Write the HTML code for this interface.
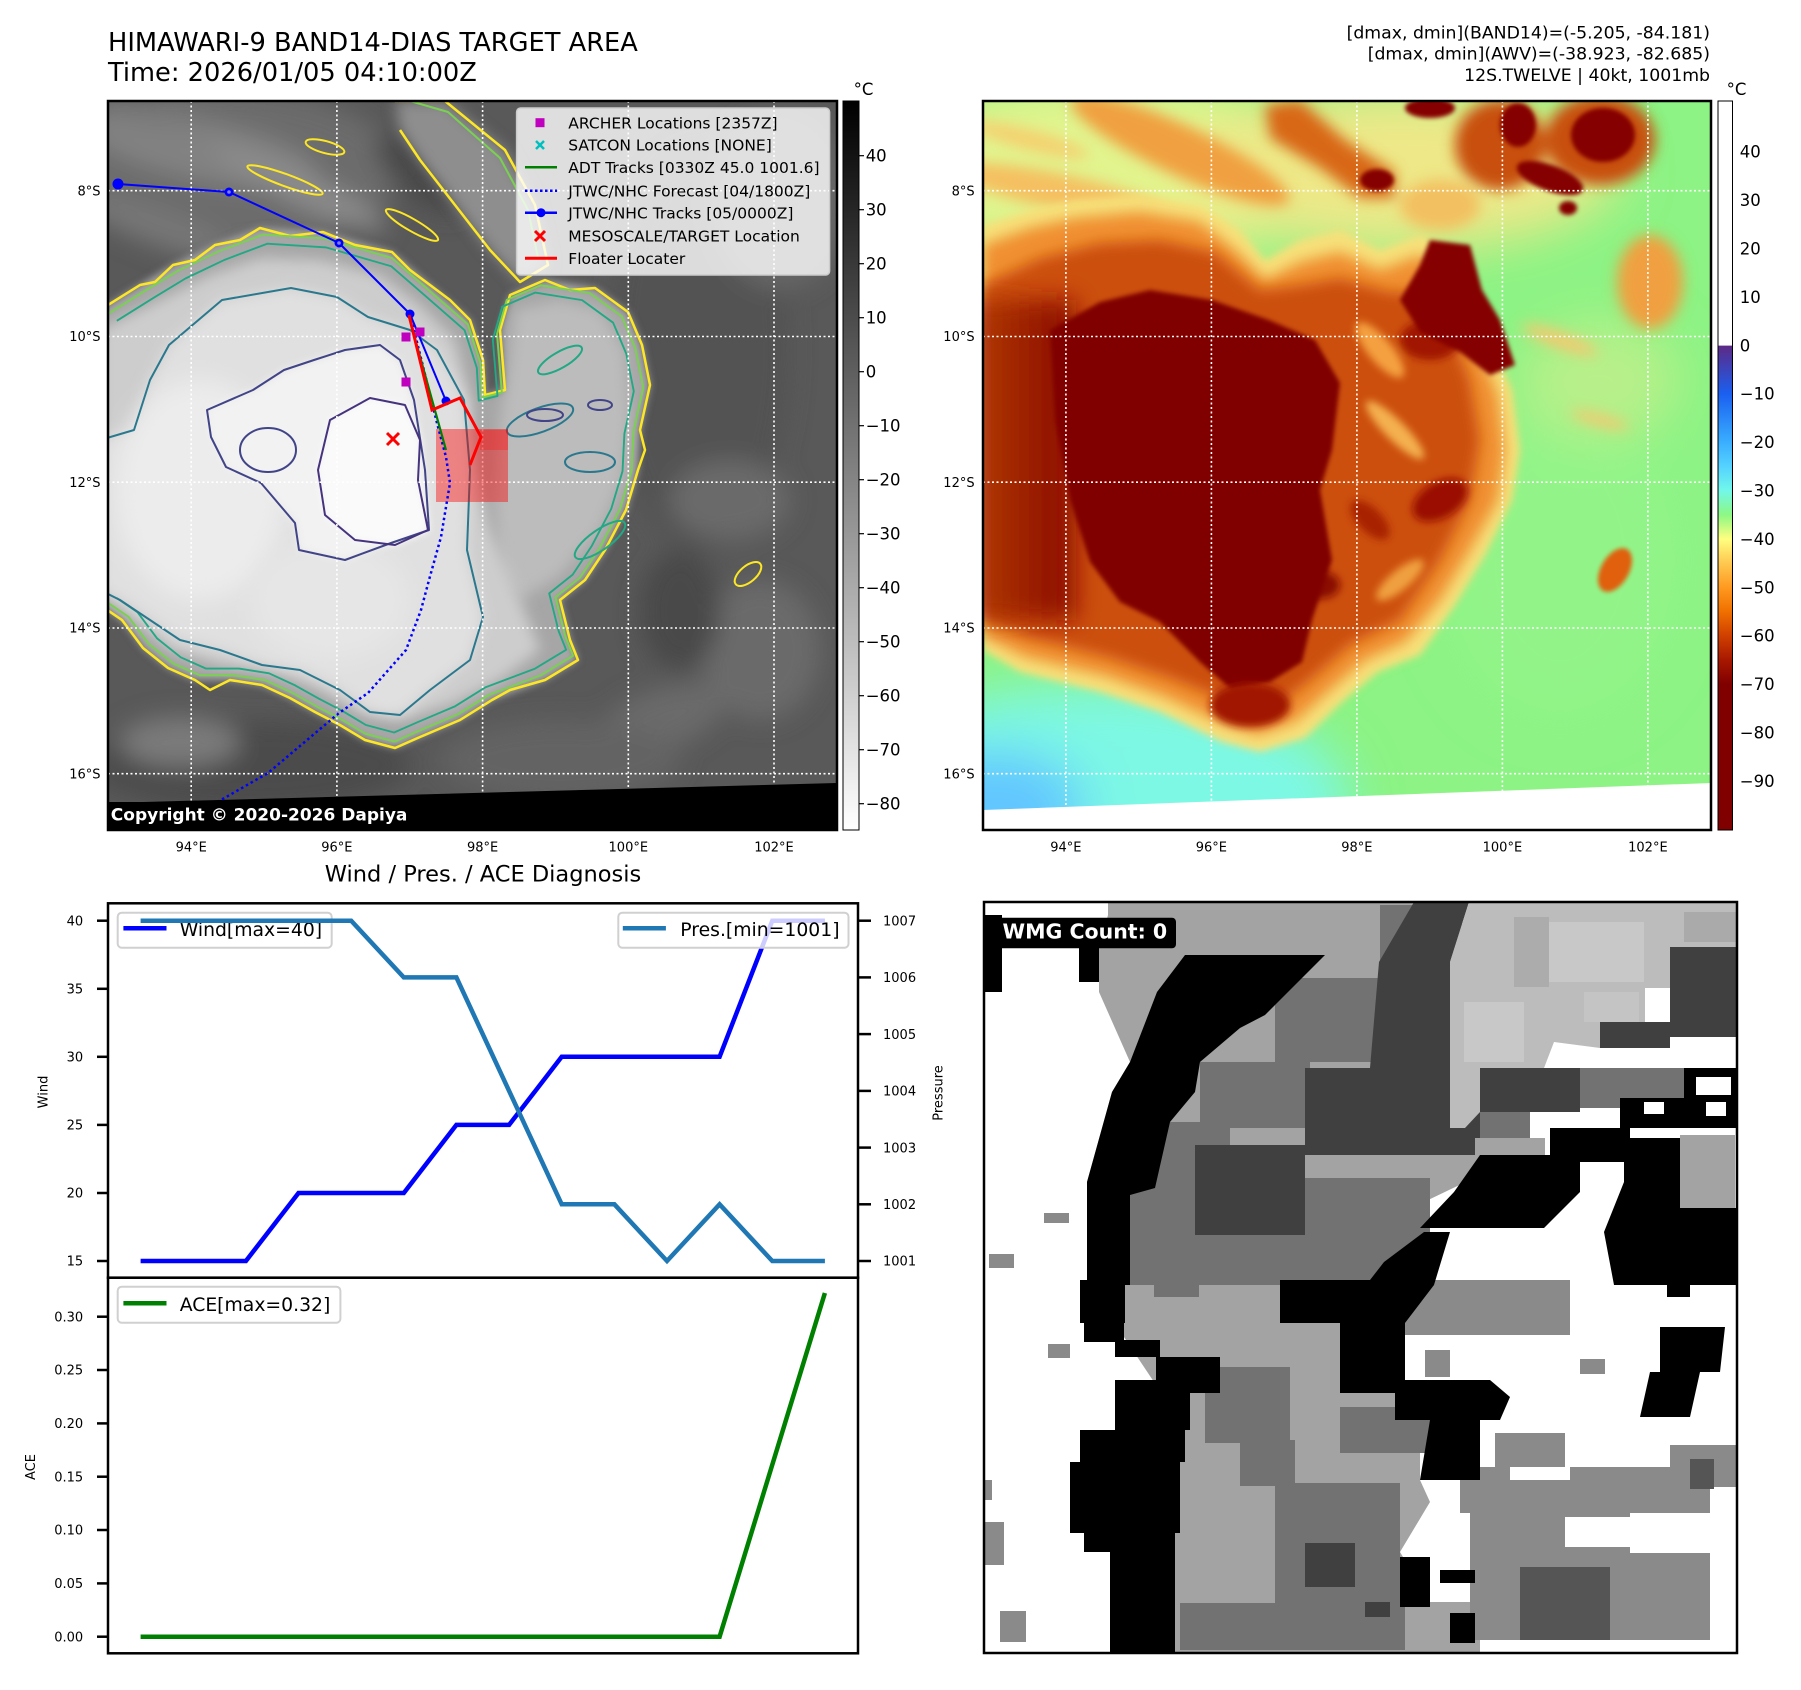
<!DOCTYPE html>
<html><head><meta charset="utf-8">
<style>
html,body{margin:0;padding:0;background:#fff;}
svg{display:block;}
text{font-family:"DejaVu Sans","Liberation Sans",sans-serif;fill:#000;}
</style></head><body>
<svg width="1801" height="1690" viewBox="0 0 1801 1690" xmlns="http://www.w3.org/2000/svg">
<defs>
<filter id="b2" x="-20%" y="-20%" width="140%" height="140%"><feGaussianBlur stdDeviation="2"/></filter>
<filter id="b4" x="-20%" y="-20%" width="140%" height="140%"><feGaussianBlur stdDeviation="4"/></filter>
<filter id="b7" x="-20%" y="-20%" width="140%" height="140%"><feGaussianBlur stdDeviation="7"/></filter>
<filter id="b12" x="-30%" y="-30%" width="160%" height="160%"><feGaussianBlur stdDeviation="12"/></filter>
<filter id="b25" x="-40%" y="-40%" width="180%" height="180%"><feGaussianBlur stdDeviation="25"/></filter>
<clipPath id="c1"><rect x="108" y="101" width="729" height="729"/></clipPath>
<clipPath id="c2"><rect x="983" y="101" width="728" height="729"/></clipPath>
<linearGradient id="gcb" x1="0" y1="0" x2="0" y2="1"><stop offset="0" stop-color="#000"/><stop offset="1" stop-color="#fff"/></linearGradient>
<linearGradient id="jcb" x1="0" y1="0" x2="0" y2="1">
<stop offset="0" stop-color="#fff"/><stop offset="0.335" stop-color="#fff"/>
<stop offset="0.336" stop-color="#5c2a86"/><stop offset="0.4015" stop-color="#1a5ff0"/>
<stop offset="0.468" stop-color="#3aaeff"/><stop offset="0.501" stop-color="#55d2ff"/>
<stop offset="0.5344" stop-color="#72f8ea"/><stop offset="0.5675" stop-color="#8cf884"/>
<stop offset="0.6007" stop-color="#ffff80"/><stop offset="0.6339" stop-color="#ffc850"/>
<stop offset="0.667" stop-color="#ff9a20"/><stop offset="0.7003" stop-color="#f07000"/>
<stop offset="0.7335" stop-color="#d04000"/><stop offset="0.7667" stop-color="#a81800"/>
<stop offset="0.7998" stop-color="#800000"/><stop offset="1" stop-color="#800000"/>
</linearGradient>
<linearGradient id="coreL" x1="0" y1="0" x2="1" y2="0">
<stop offset="0" stop-color="#b03a08"/><stop offset="1" stop-color="#8a0800"/>
</linearGradient>
</defs>

<!-- Titles -->
<text x="108" y="51" font-size="25.7">HIMAWARI-9 BAND14-DIAS TARGET AREA</text>
<text x="108" y="81" font-size="25.7">Time: 2026/01/05 04:10:00Z</text>
<text x="1710" y="38.5" font-size="17.3" text-anchor="end">[dmax, dmin](BAND14)=(-5.205, -84.181)</text>
<text x="1710" y="59.5" font-size="17.3" text-anchor="end">[dmax, dmin](AWV)=(-38.923, -82.685)</text>
<text x="1710" y="80.9" font-size="17.3" text-anchor="end">12S.TWELVE | 40kt, 1001mb</text>

<!-- ============ TOP LEFT PANEL ============ -->
<g clip-path="url(#c1)">
<rect x="108" y="101" width="729" height="729" fill="#595959"/>
<g filter="url(#b12)">
<ellipse cx="230" cy="170" rx="170" ry="80" fill="#6c6c6c"/>
<ellipse cx="200" cy="150" rx="120" ry="30" transform="rotate(12 200 150)" fill="#828282"/>
<ellipse cx="300" cy="188" rx="95" ry="16" transform="rotate(25 300 188)" fill="#8c8c8c"/>
<ellipse cx="160" cy="228" rx="80" ry="18" transform="rotate(20 160 228)" fill="#777"/>
<ellipse cx="150" cy="115" rx="60" ry="14" transform="rotate(8 150 115)" fill="#7a7a7a"/>
<ellipse cx="420" cy="175" rx="55" ry="22" transform="rotate(40 420 175)" fill="#4a4a4a"/>
<ellipse cx="700" cy="350" rx="90" ry="200" fill="#525252"/>
<ellipse cx="730" cy="500" rx="60" ry="40" fill="#6a6a6a"/>
<ellipse cx="760" cy="650" rx="60" ry="70" fill="#6a6a6a"/>
<ellipse cx="680" cy="610" rx="40" ry="60" fill="#4a4a4a"/>
<ellipse cx="660" cy="720" rx="70" ry="30" transform="rotate(-20 660 720)" fill="#6a6a6a"/>
<ellipse cx="250" cy="765" rx="160" ry="45" fill="#4c4c4c"/>
<ellipse cx="180" cy="742" rx="60" ry="25" fill="#7a7a7a"/>
<ellipse cx="560" cy="760" rx="120" ry="40" fill="#636363"/>
<ellipse cx="780" cy="200" rx="70" ry="90" fill="#666"/>
</g>
<polygon filter="url(#b7)" fill="#8e8e8e" points="395,101 445,101 505,150 535,205 548,265 520,282 490,250 455,205 420,160 400,130"/>
<!-- cloud fills -->
<path filter="url(#b4)" fill="#a6a6a6" d="M100,310 L140,285 173,265 215,245 260,228 323,232 392,252 430,285 470,320 483,360 485,395 505,390 500,330 510,295 545,280 595,288 628,312 642,345 650,385 640,430 638,470 626,510 605,550 585,580 560,600 570,640 578,660 545,680 492,700 460,720 420,737 395,748 365,740 340,725 315,712 290,698 262,685 230,680 195,680 168,668 143,648 122,620 100,605 Z"/>
<polygon filter="url(#b7)" fill="#bcbcbc" points="515,310 560,300 600,310 625,350 630,420 622,480 600,530 560,575 520,600 500,580 495,500 500,420 510,360"/>
<polygon filter="url(#b7)" fill="#cdcdcd" points="100,330 160,300 210,275 260,258 320,260 380,275 420,305 455,340 470,400 475,470 490,530 520,600 540,650 500,680 450,705 400,720 360,712 320,690 270,670 220,665 170,650 135,620 100,590"/>
<path filter="url(#b7)" fill="#e0e0e0" d="M100,440 L134,430 150,380 169,345 222,300 291,288 337,297 368,317 410,330 437,350 464,400 470,470 467,550 483,617 470,660 430,690 400,715 370,712 340,690 300,670 262,665 220,650 180,640 150,620 120,600 100,590 Z"/>
<ellipse filter="url(#b12)" cx="200" cy="490" rx="85" ry="110" fill="#ececec"/>
<ellipse filter="url(#b12)" cx="330" cy="600" rx="80" ry="60" fill="#e6e6e6"/>
<path filter="url(#b4)" fill="#f2f2f2" d="M207,410 L253,390 284,370 314,360 345,350 380,345 400,360 414,400 425,470 429,530 391,543 345,560 299,550 295,523 261,483 226,467 211,437 Z"/>
<path filter="url(#b4)" fill="#fafafa" d="M330,420 L370,398 405,405 420,440 418,480 428,530 395,545 355,540 325,515 318,470 Z"/>
<!-- contours -->
<g fill="none" stroke-linejoin="round">
<path stroke="#fde725" stroke-width="2.5" d="M100,310 L140,285 155,282 173,265 195,260 215,245 240,240 260,228 290,236 323,232 355,245 392,252 410,270 430,285 450,300 470,320 483,360 485,395 505,390 500,330 510,295 545,280 570,290 595,288 628,312 642,345 650,385 640,430 645,450 638,470 626,510 605,550 585,580 560,600 570,640 578,660 545,680 510,690 492,700 460,720 420,737 395,748 365,740 340,725 315,712 290,698 262,685 230,680 210,690 195,680 168,668 143,648 122,620 100,605"/>
<path stroke="#7ad151" stroke-width="2" transform="translate(380 490) scale(0.975) translate(-380 -490)" d="M100,310 L140,285 173,265 215,245 260,228 323,232 392,252 430,285 470,320 483,360 485,395 505,390 500,330 510,295 545,280 595,288 628,312 642,345 650,385 640,430 638,470 626,510 605,550 585,580 560,600 570,640 578,660 545,680 492,700 460,720 420,737 395,748 365,740 340,725 315,712 290,698 262,685 230,680 195,680 168,668 143,648 122,620 100,605"/>
<path stroke="#22a884" stroke-width="2" transform="translate(380 490) scale(0.94) translate(-380 -490)" d="M100,310 L140,285 173,265 215,245 260,228 323,232 392,252 430,285 470,320 483,360 485,395 505,390 500,330 510,295 545,280 595,288 628,312 642,345 650,385 640,430 638,470 626,510 605,550 585,580 560,600 570,640 578,660 545,680 492,700 460,720 420,737 395,748 365,740 340,725 315,712 290,698 262,685 230,680 195,680 168,668 143,648 122,620 100,605"/>
<path stroke="#2a788e" stroke-width="2" d="M100,440 L134,430 150,380 169,345 222,300 291,288 337,297 368,317 410,330 437,350 464,400 470,470 467,550 483,617 470,660 430,690 400,715 370,712 340,690 300,670 262,665 220,650 180,640 150,620 120,600 100,590"/>
<path stroke="#414487" stroke-width="2" d="M207,410 L253,390 284,370 314,360 345,350 380,345 400,360 414,400 425,470 429,530 391,543 345,560 299,550 295,523 261,483 226,467 211,437 Z"/>
<path stroke="#46337e" stroke-width="2" d="M330,420 L370,398 405,405 420,440 418,480 428,530 395,545 355,540 325,515 318,470 Z"/>
<path stroke="#fde725" stroke-width="2.5" d="M395,101 L445,101 505,150 535,205 548,265 520,282 490,250 455,205 420,160 400,130"/>
<path stroke="#7ad151" stroke-width="2" d="M410,101 L448,112 500,158 528,210 538,258"/>
<ellipse cx="285" cy="180" rx="40" ry="6" transform="rotate(20 285 180)" stroke="#fde725" stroke-width="2"/>
<ellipse cx="325" cy="147" rx="20" ry="6" transform="rotate(15 325 147)" stroke="#fde725" stroke-width="2"/>
<ellipse cx="412" cy="225" rx="30" ry="6" transform="rotate(30 412 225)" stroke="#fde725" stroke-width="2"/>
<ellipse cx="748" cy="574" rx="16" ry="8" transform="rotate(-40 748 574)" stroke="#fde725" stroke-width="2"/>
<ellipse cx="540" cy="420" rx="35" ry="12" transform="rotate(-20 540 420)" stroke="#2a788e" stroke-width="2"/>
<ellipse cx="590" cy="462" rx="25" ry="10" stroke="#2a788e" stroke-width="2"/>
<ellipse cx="545" cy="415" rx="18" ry="6" stroke="#414487" stroke-width="2"/>
<ellipse cx="600" cy="405" rx="12" ry="5" stroke="#414487" stroke-width="2"/>
<ellipse cx="268" cy="450" rx="28" ry="22" stroke="#414487" stroke-width="2"/>
<ellipse cx="600" cy="540" rx="30" ry="10" transform="rotate(-35 600 540)" stroke="#22a884" stroke-width="2"/>
<ellipse cx="560" cy="360" rx="25" ry="8" transform="rotate(-30 560 360)" stroke="#22a884" stroke-width="2"/>
</g>
<!-- gridlines -->
<g stroke="#fff" stroke-width="1.6" stroke-dasharray="2 2.5">
<line x1="191.2" y1="101" x2="191.2" y2="830"/><line x1="336.9" y1="101" x2="336.9" y2="830"/>
<line x1="482.6" y1="101" x2="482.6" y2="830"/><line x1="628.3" y1="101" x2="628.3" y2="830"/>
<line x1="774" y1="101" x2="774" y2="830"/>
<line x1="108" y1="190.7" x2="837" y2="190.7"/><line x1="108" y1="336.5" x2="837" y2="336.5"/>
<line x1="108" y1="482.2" x2="837" y2="482.2"/><line x1="108" y1="628" x2="837" y2="628"/>
<line x1="108" y1="773.7" x2="837" y2="773.7"/>
</g>
<!-- pink floater box -->
<rect x="436" y="429" width="72" height="73" fill="#ff0000" fill-opacity="0.42"/>
<rect x="480" y="430" width="28" height="20" fill="#ff0000" fill-opacity="0.25"/>
<!-- tracks -->
<polyline fill="none" stroke="#0000ff" stroke-width="2.5" stroke-dasharray="2.5 3" points="410,314 437,423 446,457 450,483 441,537 429,580 421,610 406,650 368,693 339,713 268,773 214,804"/>
<polyline fill="none" stroke="#0000ff" stroke-width="2" points="118,184 229,192 339,243 410,314 446,401"/>
<circle cx="118" cy="184" r="5.5" fill="#0000ff"/>
<circle cx="229" cy="192" r="4.5" fill="#0000ff"/><circle cx="229" cy="192" r="1.8" fill="#8080ff"/>
<circle cx="339" cy="243" r="4.5" fill="#0000ff"/><circle cx="339" cy="243" r="1.8" fill="#8080ff"/>
<circle cx="410" cy="314" r="4.5" fill="#0000ff"/>
<circle cx="446" cy="401" r="4.5" fill="#0000ff"/>
<line x1="409" y1="317" x2="446" y2="450" stroke="#008000" stroke-width="2.2"/>
<polyline fill="none" stroke="#ff0000" stroke-width="3" points="409,315 432,410 460,398 481,437 470,465"/>
<g fill="#bf00bf"><rect x="401.5" y="332.5" width="9" height="9"/><rect x="415.5" y="327.5" width="9" height="9"/><rect x="401.5" y="377.5" width="9" height="9"/></g>
<g stroke="#ff0000" stroke-width="3"><line x1="387" y1="433" x2="399" y2="445"/><line x1="399" y1="433" x2="387" y2="445"/></g>
<!-- no-data black area -->
<polygon points="108,803 837,783 837,830 108,830" fill="#000"/>
<rect x="108" y="802" width="307" height="28" fill="#000"/>
<text x="110.8" y="820.5" font-size="17" font-weight="bold" style="fill:#fff">Copyright © 2020-2026 Dapiya</text>
<!-- legend -->
<rect x="516.6" y="108" width="313" height="167" rx="4" fill="#fff" fill-opacity="0.8" stroke="#cccccc" stroke-width="1.5"/>
<rect x="535.5" y="118.2" width="9" height="9" fill="#bf00bf"/>
<g stroke="#00bfbf" stroke-width="2.5"><line x1="536" y1="141" x2="544" y2="149"/><line x1="544" y1="141" x2="536" y2="149"/></g>
<line x1="525" y1="167.3" x2="557" y2="167.3" stroke="#008000" stroke-width="2.5"/>
<line x1="525" y1="190.7" x2="557" y2="190.7" stroke="#0000ff" stroke-width="2.5" stroke-dasharray="2.5 2.5"/>
<line x1="525" y1="212.7" x2="557" y2="212.7" stroke="#0000ff" stroke-width="2.5"/><circle cx="541" cy="212.7" r="4.5" fill="#0000ff"/>
<g stroke="#ff0000" stroke-width="3"><line x1="535" y1="231" x2="545" y2="241"/><line x1="545" y1="231" x2="535" y2="241"/></g>
<line x1="525" y1="258.3" x2="557" y2="258.3" stroke="#ff0000" stroke-width="3"/>
<g font-size="15.5">
<text x="568.3" y="128.3">ARCHER Locations [2357Z]</text>
<text x="568.3" y="150.6">SATCON Locations [NONE]</text>
<text x="568.3" y="172.9">ADT Tracks [0330Z 45.0 1001.6]</text>
<text x="568.3" y="196.3">JTWC/NHC Forecast [04/1800Z]</text>
<text x="568.3" y="218.3">JTWC/NHC Tracks [05/0000Z]</text>
<text x="568.3" y="241.6">MESOSCALE/TARGET Location</text>
<text x="568.3" y="263.9">Floater Locater</text>
</g>
</g>
<rect x="108" y="101" width="729" height="729" fill="none" stroke="#000" stroke-width="2.5"/>

<!-- map tick labels -->
<g font-size="13" text-anchor="end">
<text x="100.5" y="195.4">8°S</text><text x="100.5" y="341.2">10°S</text><text x="100.5" y="486.9">12°S</text>
<text x="100.5" y="632.7">14°S</text><text x="100.5" y="778.4">16°S</text>
<text x="974.6" y="195.4">8°S</text><text x="974.6" y="341.2">10°S</text><text x="974.6" y="486.9">12°S</text>
<text x="974.6" y="632.7">14°S</text><text x="974.6" y="778.4">16°S</text>
</g>
<g font-size="13" text-anchor="middle">
<text x="191.2" y="851.5">94°E</text><text x="336.9" y="851.5">96°E</text><text x="482.6" y="851.5">98°E</text>
<text x="628.3" y="851.5">100°E</text><text x="774" y="851.5">102°E</text>
<text x="1065.9" y="851.5">94°E</text><text x="1211.4" y="851.5">96°E</text><text x="1356.9" y="851.5">98°E</text>
<text x="1502.4" y="851.5">100°E</text><text x="1647.9" y="851.5">102°E</text>
</g>

<!-- left colorbar -->
<rect x="843" y="101" width="16" height="729" fill="url(#gcb)" stroke="#000" stroke-width="1"/>
<text x="853.6" y="95" font-size="16.5">°C</text>
<g stroke="#000" stroke-width="1.2">
<line x1="859" y1="155.7" x2="864" y2="155.7"/><line x1="859" y1="209.7" x2="864" y2="209.7"/><line x1="859" y1="263.7" x2="864" y2="263.7"/>
<line x1="859" y1="317.7" x2="864" y2="317.7"/><line x1="859" y1="371.7" x2="864" y2="371.7"/><line x1="859" y1="425.7" x2="864" y2="425.7"/>
<line x1="859" y1="479.7" x2="864" y2="479.7"/><line x1="859" y1="533.7" x2="864" y2="533.7"/><line x1="859" y1="587.7" x2="864" y2="587.7"/>
<line x1="859" y1="641.7" x2="864" y2="641.7"/><line x1="859" y1="695.7" x2="864" y2="695.7"/><line x1="859" y1="749.7" x2="864" y2="749.7"/>
<line x1="859" y1="803.7" x2="864" y2="803.7"/>
</g>
<g font-size="16.5">
<text x="865.7" y="161.7">40</text><text x="865.7" y="215.7">30</text><text x="865.7" y="269.7">20</text>
<text x="865.7" y="323.7">10</text><text x="865.7" y="377.7">0</text><text x="865.7" y="431.7">−10</text>
<text x="865.7" y="485.7">−20</text><text x="865.7" y="539.7">−30</text><text x="865.7" y="593.7">−40</text>
<text x="865.7" y="647.7">−50</text><text x="865.7" y="701.7">−60</text><text x="865.7" y="755.7">−70</text>
<text x="865.7" y="809.7">−80</text>
</g>

<!-- ============ TOP RIGHT PANEL ============ -->
<g clip-path="url(#c2)">
<rect x="983" y="101" width="728" height="729" fill="#8cf384"/>
<g filter="url(#b25)">
<ellipse cx="1110" cy="170" rx="230" ry="95" fill="#e2f48e"/>
<ellipse cx="1400" cy="170" rx="220" ry="80" fill="#eee888"/>
<ellipse cx="1090" cy="805" rx="260" ry="120" fill="#7df8e4"/>
<ellipse cx="995" cy="810" rx="90" ry="60" fill="#62c6ff"/>
<ellipse cx="1560" cy="560" rx="120" ry="160" fill="#92f488"/>
<ellipse cx="1600" cy="380" rx="80" ry="60" fill="#b8f08a"/>
</g>
<g filter="url(#b7)">
<ellipse cx="1180" cy="150" rx="120" ry="25" transform="rotate(25 1180 150)" fill="#f0a040"/>
<ellipse cx="1060" cy="192" rx="110" ry="18" transform="rotate(12 1060 192)" fill="#f4c060"/>
<ellipse cx="1030" cy="140" rx="60" ry="10" transform="rotate(15 1030 140)" fill="#f4d070"/>
<polygon points="1265,105 1300,100 1345,140 1395,172 1395,198 1360,198 1320,168 1270,138" fill="#d86818"/>
<ellipse cx="1500" cy="145" rx="45" ry="45" fill="#c85010"/>
<ellipse cx="1600" cy="140" rx="55" ry="45" fill="#c85010"/>
<ellipse cx="1650" cy="282" rx="33" ry="47" fill="#f0a040"/>
<ellipse cx="1440" cy="205" rx="40" ry="25" fill="#f2c060"/>
<ellipse cx="1560" cy="340" rx="40" ry="8" transform="rotate(20 1560 340)" fill="#f4c870"/>
<ellipse cx="1600" cy="420" rx="30" ry="6" transform="rotate(15 1600 420)" fill="#f4c870"/>
</g>
<g filter="url(#b2)" fill="#850400">
<ellipse cx="1377" cy="180" rx="17" ry="11"/>
<ellipse cx="1430" cy="108" rx="25" ry="10"/>
<ellipse cx="1518" cy="125" rx="18" ry="22"/>
<ellipse cx="1603" cy="135" rx="32" ry="27"/>
<ellipse cx="1550" cy="178" rx="35" ry="13" transform="rotate(20 1550 178)"/>
<ellipse cx="1568" cy="208" rx="9" ry="7"/>
</g>
<!-- cloud -->
<polygon filter="url(#b4)" fill="#f6e07a" points="983,225 1030,210 1075,200 1140,195 1200,205 1240,230 1265,260 1300,240 1340,230 1380,250 1420,235 1455,250 1470,300 1490,340 1512,390 1520,450 1512,500 1485,555 1455,605 1420,655 1378,672 1342,702 1305,738 1260,752 1222,742 1160,712 1100,692 1020,672 983,650"/>
<polygon filter="url(#b7)" fill="#f09030" points="983,245 1030,228 1075,218 1140,212 1200,222 1235,250 1265,280 1300,262 1340,252 1380,270 1420,255 1445,270 1458,305 1478,345 1498,395 1505,450 1498,500 1470,550 1440,600 1405,642 1365,660 1330,690 1295,722 1258,735 1225,725 1165,697 1105,676 1025,657 983,636"/>
<polygon filter="url(#b7)" fill="#cc5010" points="983,285 1040,258 1100,243 1160,240 1215,252 1260,290 1300,285 1340,278 1390,292 1430,292 1450,330 1470,380 1480,440 1470,500 1440,560 1400,620 1350,645 1310,680 1270,712 1230,702 1170,678 1110,658 1030,638 983,618"/>
<rect filter="url(#b12)" x="975" y="300" width="100" height="320" fill="url(#coreL)"/>
<g filter="url(#b4)">
<ellipse cx="1380" cy="350" rx="35" ry="12" transform="rotate(50 1380 350)" fill="#f4a040"/>
<ellipse cx="1395" cy="430" rx="40" ry="10" transform="rotate(45 1395 430)" fill="#f4b050"/>
<ellipse cx="1430" cy="340" rx="30" ry="20" fill="#a01800"/>
<ellipse cx="1440" cy="500" rx="30" ry="18" transform="rotate(-30 1440 500)" fill="#9a1000"/>
<ellipse cx="1320" cy="585" rx="20" ry="14" fill="#8a0800"/>
<ellipse cx="1370" cy="520" rx="25" ry="12" transform="rotate(45 1370 520)" fill="#a82000"/>
<ellipse cx="1400" cy="580" rx="30" ry="10" transform="rotate(-40 1400 580)" fill="#f0a040"/>
</g>
<polygon filter="url(#b2)" fill="#800000" points="1050,330 1100,302 1150,290 1212,300 1269,320 1315,340 1340,383 1332,450 1320,490 1332,560 1312,620 1302,662 1270,682 1232,690 1200,662 1160,622 1120,602 1090,562 1070,500 1055,420"/>
<polygon filter="url(#b2)" fill="#850500" points="1430,240 1470,245 1482,290 1500,320 1515,365 1490,375 1460,352 1420,332 1400,300 1420,265"/>
<ellipse filter="url(#b4)" cx="1250" cy="705" rx="40" ry="22" fill="#a01800"/>
<ellipse filter="url(#b2)" cx="1615" cy="570" rx="14" ry="24" transform="rotate(30 1615 570)" fill="#e06010"/>
<g stroke="#fff" stroke-width="1.6" stroke-dasharray="2 2.5">
<line x1="1065.9" y1="101" x2="1065.9" y2="830"/><line x1="1211.4" y1="101" x2="1211.4" y2="830"/>
<line x1="1356.9" y1="101" x2="1356.9" y2="830"/><line x1="1502.4" y1="101" x2="1502.4" y2="830"/>
<line x1="1647.9" y1="101" x2="1647.9" y2="830"/>
<line x1="983" y1="190.7" x2="1711" y2="190.7"/><line x1="983" y1="336.5" x2="1711" y2="336.5"/>
<line x1="983" y1="482.2" x2="1711" y2="482.2"/><line x1="983" y1="628" x2="1711" y2="628"/>
<line x1="983" y1="773.7" x2="1711" y2="773.7"/>
</g>
<polygon points="983,810 1711,783 1711,830 983,830" fill="#fff"/>
</g>
<rect x="983" y="101" width="728" height="729" fill="none" stroke="#000" stroke-width="2.5"/>

<!-- right colorbar -->
<rect x="1718" y="101" width="14.5" height="729" fill="url(#jcb)" stroke="#000" stroke-width="1"/>
<text x="1726.6" y="95" font-size="16.5">°C</text>
<g font-size="16.5">
<text x="1739.8" y="157.7">40</text><text x="1739.8" y="206.1">30</text><text x="1739.8" y="254.5">20</text>
<text x="1739.8" y="302.9">10</text><text x="1739.8" y="351.3">0</text><text x="1739.8" y="399.7">−10</text>
<text x="1739.8" y="448.1">−20</text><text x="1739.8" y="496.5">−30</text><text x="1739.8" y="544.9">−40</text>
<text x="1739.8" y="593.3">−50</text><text x="1739.8" y="641.7">−60</text><text x="1739.8" y="690.1">−70</text>
<text x="1739.8" y="738.5">−80</text><text x="1739.8" y="786.9">−90</text>
</g>

<!-- ============ BOTTOM LEFT CHART ============ -->
<text x="483" y="881.7" font-size="22.5" text-anchor="middle">Wind / Pres. / ACE Diagnosis</text>
<polyline fill="none" stroke="#0000ff" stroke-width="4.5" points="140.6,1261 193.2,1261 245.9,1261 298.5,1193 351.2,1193 403.8,1193 456.4,1124.9 509.1,1124.9 561.7,1056.8 614.4,1056.8 667,1056.8 719.6,1056.8 772.3,920.7 824.9,920.7"/>
<rect x="117.7" y="912.7" width="214" height="35" rx="4" fill="#fff" fill-opacity="0.8" stroke="#d0d0d0" stroke-width="2"/>
<line x1="123.4" y1="928.3" x2="166.5" y2="928.3" stroke="#0000ff" stroke-width="4.5"/>
<text x="179.7" y="936" font-size="18.8">Wind[max=40]</text>
<polyline fill="none" stroke="#1f77b4" stroke-width="4.5" points="140.6,920.7 193.2,920.7 245.9,920.7 298.5,920.7 351.2,920.7 403.8,977.4 456.4,977.4 509.1,1090.9 561.7,1204.3 614.4,1204.3 667,1261 719.6,1204.3 772.3,1261 824.9,1261"/>
<rect x="618.3" y="912.7" width="230.2" height="35" rx="4" fill="#fff" fill-opacity="0.8" stroke="#d0d0d0" stroke-width="2"/>
<line x1="622.8" y1="928.3" x2="665.9" y2="928.3" stroke="#1f77b4" stroke-width="4.5"/>
<text x="680.3" y="936" font-size="18.8">Pres.[min=1001]</text>
<polyline fill="none" stroke="#008000" stroke-width="4.5" points="140.6,1636.7 719.6,1636.7 824.9,1293"/>
<rect x="117.7" y="1286.7" width="222.7" height="36" rx="4" fill="#fff" fill-opacity="0.8" stroke="#d0d0d0" stroke-width="2"/>
<line x1="123.4" y1="1303.3" x2="166.5" y2="1303.3" stroke="#008000" stroke-width="4.5"/>
<text x="179.7" y="1311" font-size="18.8">ACE[max=0.32]</text>
<rect x="108" y="903.3" width="750" height="374.4" fill="none" stroke="#000" stroke-width="2.5"/>
<rect x="108" y="1277.7" width="750" height="375.6" fill="none" stroke="#000" stroke-width="2.5"/>
<g stroke="#000" stroke-width="2.5">
<line x1="97" y1="920.7" x2="108" y2="920.7"/><line x1="97" y1="988.8" x2="108" y2="988.8"/><line x1="97" y1="1056.8" x2="108" y2="1056.8"/>
<line x1="97" y1="1124.9" x2="108" y2="1124.9"/><line x1="97" y1="1193" x2="108" y2="1193"/><line x1="97" y1="1261" x2="108" y2="1261"/>
<line x1="858" y1="920.7" x2="871" y2="920.7"/><line x1="858" y1="977.4" x2="871" y2="977.4"/><line x1="858" y1="1034.1" x2="871" y2="1034.1"/>
<line x1="858" y1="1090.9" x2="871" y2="1090.9"/><line x1="858" y1="1147.6" x2="871" y2="1147.6"/><line x1="858" y1="1204.3" x2="871" y2="1204.3"/>
<line x1="858" y1="1261" x2="871" y2="1261"/>
<line x1="97" y1="1316.7" x2="108" y2="1316.7"/><line x1="97" y1="1370" x2="108" y2="1370"/><line x1="97" y1="1423.4" x2="108" y2="1423.4"/>
<line x1="97" y1="1476.7" x2="108" y2="1476.7"/><line x1="97" y1="1530" x2="108" y2="1530"/><line x1="97" y1="1583.4" x2="108" y2="1583.4"/>
<line x1="97" y1="1636.7" x2="108" y2="1636.7"/>
</g>
<g font-size="13" text-anchor="end">
<text x="83.2" y="925.4">40</text><text x="83.2" y="993.5">35</text><text x="83.2" y="1061.5">30</text>
<text x="83.2" y="1129.6">25</text><text x="83.2" y="1197.7">20</text><text x="83.2" y="1265.7">15</text>
<text x="83.2" y="1321.4">0.30</text><text x="83.2" y="1374.7">0.25</text><text x="83.2" y="1428.1">0.20</text>
<text x="83.2" y="1481.4">0.15</text><text x="83.2" y="1534.7">0.10</text><text x="83.2" y="1588.1">0.05</text>
<text x="83.2" y="1641.4">0.00</text>
</g>
<g font-size="13">
<text x="883" y="925.4">1007</text><text x="883" y="982.1">1006</text><text x="883" y="1038.8">1005</text>
<text x="883" y="1095.6">1004</text><text x="883" y="1152.3">1003</text><text x="883" y="1209">1002</text>
<text x="883" y="1265.7">1001</text>
</g>
<text font-size="13" text-anchor="middle" transform="translate(47.5 1092) rotate(-90)">Wind</text>
<text font-size="13" text-anchor="middle" transform="translate(942.5 1093) rotate(-90)">Pressure</text>
<text font-size="13" text-anchor="middle" transform="translate(35 1467) rotate(-90)">ACE</text>

<!-- ============ BOTTOM RIGHT PANEL ============ -->
<g transform="translate(984 902)">
<rect width="753" height="751" fill="#fff"/>
<polygon fill="#a3a3a3" points="124,0 480,0 466,160 480,226 500,236 490,276 440,300 440,383 296,383 296,421 356,421 356,491 411,491 436,520 436,578 446,600 416,650 446,700 496,700 496,751 150,751 165,600 170,480 130,420 103,383 103,280 128,190 146,160 115,90 115,46 124,13"/>
<g fill="#8a8a8a">
<rect x="416" y="378" width="170" height="55"/><rect x="441" y="448" width="25" height="27"/><rect x="596" y="457" width="25" height="15"/>
<rect x="64" y="442" width="22" height="14"/><rect x="511" y="531" width="70" height="34"/><rect x="476" y="565" width="250" height="46"/>
<rect x="486" y="611" width="160" height="40"/><rect x="486" y="651" width="240" height="87"/><rect x="686" y="543" width="67" height="42"/>
<rect x="0" y="578" width="8" height="20"/><rect x="0" y="620" width="20" height="43"/><rect x="16" y="709" width="26" height="31"/>
<rect x="5" y="352" width="25" height="14"/><rect x="60" y="311" width="25" height="10"/>
</g>
<rect x="581" y="615" width="65" height="30" fill="#fff"/>
<rect x="526" y="565" width="60" height="13" fill="#fff"/>
<g fill="#555"><rect x="536" y="665" width="90" height="73"/><rect x="706" y="557" width="24" height="30"/></g>
<g fill="#727272">
<rect x="396" y="3" width="65" height="57"/><rect x="291" y="76" width="105" height="84"/><rect x="216" y="160" width="110" height="66"/>
<rect x="171" y="220" width="75" height="73"/><rect x="146" y="276" width="300" height="107"/><rect x="546" y="166" width="160" height="40"/>
<rect x="491" y="210" width="55" height="43"/><rect x="170" y="378" width="45" height="17"/><rect x="221" y="465" width="85" height="76"/>
<rect x="256" y="538" width="55" height="46"/><rect x="356" y="505" width="90" height="46"/><rect x="291" y="581" width="125" height="130"/>
<rect x="196" y="701" width="225" height="47"/>
</g>
<g fill="#404040">
<polygon points="430,0 485,0 466,60 466,166 386,166 395,60"/>
<rect x="321" y="166" width="175" height="87"/><rect x="496" y="166" width="100" height="44"/><rect x="211" y="243" width="110" height="90"/>
<rect x="686" y="45" width="67" height="90"/><rect x="616" y="120" width="70" height="26"/><rect x="321" y="641" width="50" height="44"/>
<rect x="381" y="700" width="25" height="15"/>
</g>
<polygon fill="#bcbcbc" points="485,0 753,0 753,45 686,45 686,86 661,86 661,120 616,120 616,146 570,140 560,166 496,166 496,210 481,226 466,226 466,60"/>
<rect x="560" y="20" width="100" height="60" fill="#c8c8c8"/><rect x="600" y="90" width="55" height="30" fill="#c4c4c4"/>
<rect x="480" y="100" width="60" height="60" fill="#c8c8c8"/><rect x="530" y="15" width="35" height="70" fill="#acacac"/>
<rect x="700" y="10" width="53" height="30" fill="#aaaaaa"/>
<g fill="#a3a3a3"><rect x="696" y="233" width="55" height="73"/><rect x="491" y="236" width="70" height="40"/></g>
<g fill="#000">
<polygon points="201,53 341,53 311,83 281,113 256,126 216,160 211,190 186,220 171,286 146,293 146,383 103,383 103,280 128,190 146,160 173,90"/>
<rect x="96" y="378" width="45" height="43"/><rect x="100" y="420" width="40" height="20"/><rect x="131" y="438" width="45" height="17"/>
<rect x="172" y="455" width="64" height="36"/><rect x="131" y="478" width="75" height="50"/><rect x="96" y="528" width="105" height="32"/>
<rect x="86" y="560" width="110" height="71"/><rect x="126" y="631" width="65" height="120"/><rect x="100" y="620" width="30" height="30"/>
<polygon points="296,378 386,378 400,360 440,330 466,330 450,383 421,421 421,491 356,491 356,421 296,421"/>
<polygon points="411,478 506,478 526,495 516,518 496,518 496,578 436,578 446,518 411,518"/>
<rect x="416" y="655" width="30" height="50"/><rect x="456" y="668" width="35" height="13"/><rect x="466" y="711" width="25" height="30"/>
<polygon points="676,425 741,425 736,470 716,470 706,515 656,515 666,470 676,470"/>
<polygon points="496,253 596,253 596,290 560,326 436,326 470,290"/>
<rect x="566" y="226" width="80" height="34"/>
<polygon points="640,236 696,236 696,306 753,306 753,383 630,383 620,330 640,280"/>
<rect x="700" y="166" width="53" height="60"/><rect x="636" y="196" width="70" height="30"/>
<rect x="0" y="13" width="18" height="77"/><rect x="95" y="46" width="20" height="34"/>
<rect x="683" y="378" width="23" height="17"/>
</g>
<g fill="#fff"><rect x="712" y="175" width="35" height="18"/><rect x="722" y="200" width="20" height="14"/><rect x="660" y="200" width="20" height="12"/></g>
<rect x="12" y="15.7" width="180" height="30.6" rx="4" fill="#000"/>
<text x="18.5" y="36.3" font-size="20.5" font-weight="bold" style="fill:#fff">WMG Count: 0</text>
</g>
<rect x="984" y="902" width="753" height="751" fill="none" stroke="#000" stroke-width="2.5"/>
</svg>
</body></html>
